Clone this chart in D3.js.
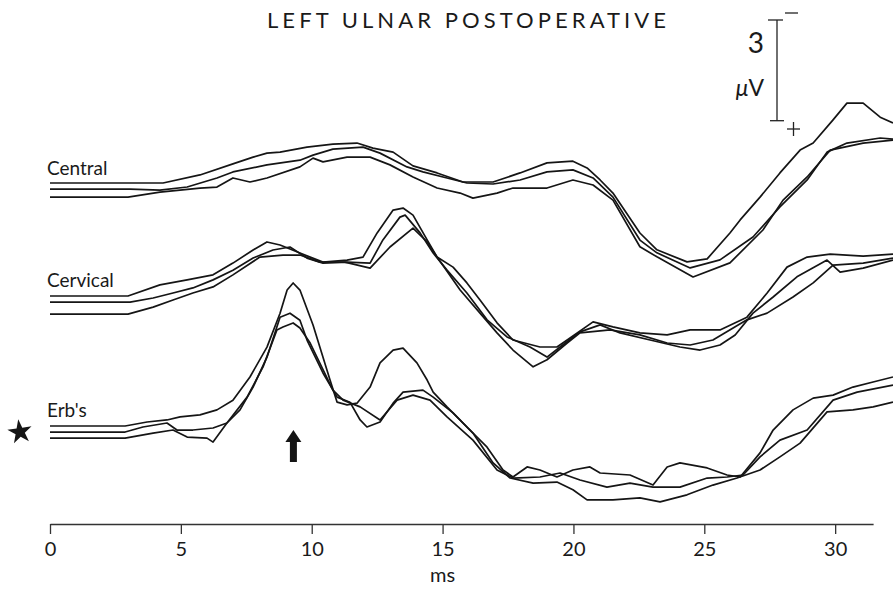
<!DOCTYPE html>
<html>
<head>
<meta charset="utf-8">
<script src="https://cdn.jsdelivr.net/npm/d3@7"></script>
<style>
  body { margin: 0; background: #fff; }
  svg text { font-family: Lato, "DejaVu Sans", sans-serif; font-weight: 400; fill: #1a1a1a; }
</style>
</head>
<body>
<svg id="chart" width="893" height="589"></svg>
<script>
// Somatosensory evoked potentials, left ulnar stimulation, three superimposed runs per site.
// Each point is [latency in ms, amplitude in µV]; negative is drawn upward.
const title = "LEFT ULNAR POSTOPERATIVE";
const sites = ["Central", "Cervical", "Erb's"];
const msTicks = [0, 5, 10, 15, 20, 25, 30];
const scaleBarUV = 3;

const central1 = [[0,0],[2.98,0],[4.32,0],[5.73,-0.24],[6.99,-0.57],[7.76,-0.77],[8.29,-0.89],[8.79,-0.92],[9.82,-1.07],[10.81,-1.16],[11.73,-1.19],[12.34,-1.04],[13.11,-0.92],[13.87,-0.51],[14.79,-0.30],[15.78,-0.03],[16.93,-0.03],[17.96,-0.30],[18.99,-0.60],[19.98,-0.65],[20.52,-0.45],[21.02,-0.09],[21.51,0.30],[22.54,1.49],[23.19,1.99],[24.34,2.35],[25.11,2.26],[25.98,1.49],[26.37,1.10],[27.13,0.42],[27.89,-0.30],[28.66,-0.98],[29.16,-1.19],[29.92,-1.88],[30.45,-2.38],[31.07,-2.38],[31.72,-1.96],[32.21,-1.79]];
const central2 = [[0,0.18],[3.06,0.18],[4.20,0.21],[5.24,0.12],[6.38,-0.15],[6.99,-0.33],[8.29,-0.54],[9.55,-0.68],[10.05,-0.83],[10.81,-1.01],[11.96,-1.07],[12.61,-0.89],[13.64,-0.48],[14.25,-0.33],[15.17,-0.15],[15.93,0],[16.93,0.03],[17.96,-0.09],[18.99,-0.33],[19.98,-0.39],[20.75,-0.15],[21.51,0.42],[22.54,1.70],[23.19,2.08],[24.46,2.53],[25.60,2.29],[26.86,1.61],[27.89,0.71],[28.93,-0.09],[29.69,-0.92],[30.45,-1.19],[31.72,-1.34],[32.21,-1.31]];
const central3 = [[0,0.42],[2.98,0.42],[4.20,0.27],[5.73,0.15],[6.38,0.12],[6.99,-0.15],[7.64,-0.03],[8.29,-0.15],[9.55,-0.48],[10.05,-0.74],[10.43,-0.63],[11.35,-0.77],[12.23,-0.77],[12.99,-0.54],[13.87,-0.18],[14.79,0.15],[15.67,0.30],[16.16,0.45],[17.08,0.30],[17.69,0.15],[18.99,0.15],[19.98,-0.09],[20.75,0.06],[21.51,0.51],[22.54,1.90],[23.19,2.20],[24.57,2.80],[25.98,2.38],[27.24,1.40],[28.01,0.51],[28.93,-0.18],[29.81,-0.98],[31.07,-1.19],[32.21,-1.28]];

const cervical1 = [[0,0],[2.98,0],[4.20,-0.33],[5.24,-0.48],[6.23,-0.63],[6.99,-0.98],[7.76,-1.37],[8.29,-1.61],[8.79,-1.52],[9.55,-1.28],[10.43,-1.01],[11.35,-1.07],[11.96,-1.16],[12.50,-1.88],[13.11,-2.56],[13.49,-2.62],[13.87,-2.41],[14.41,-1.67],[14.79,-1.16],[15.40,-0.86],[15.93,-0.39],[16.43,0.12],[17.08,0.80],[17.69,1.31],[18.72,1.52],[19.37,1.52],[19.76,1.31],[20.75,0.77],[21.51,0.92],[22.54,1.10],[23.58,1.16],[24.46,1.01],[25.60,1.01],[26.63,0.63],[27.40,-0.09],[28.16,-0.86],[28.93,-1.16],[29.81,-1.25],[31.07,-1.19],[32.21,-1.25]];
const cervical2 = [[0,0.18],[3.06,0.18],[3.94,0.06],[4.70,-0.09],[5.46,-0.24],[6.23,-0.48],[6.99,-0.77],[7.76,-1.13],[8.52,-1.37],[9.17,-1.46],[9.82,-1.13],[10.43,-0.98],[11.35,-1.01],[12.23,-0.98],[12.72,-1.67],[13.37,-2.35],[13.57,-2.41],[14.14,-1.88],[14.64,-1.28],[15.17,-0.77],[15.93,-0.09],[16.70,0.71],[17.46,1.22],[18.34,1.52],[18.99,1.82],[19.49,1.52],[20.25,1.07],[21.02,0.86],[21.78,1.10],[22.93,1.31],[24.07,1.52],[24.84,1.61],[25.60,1.46],[26.18,1.16],[26.86,0.51],[27.63,0.03],[28.54,-0.57],[29.69,-1.07],[30.19,-0.71],[31.07,-0.83],[32.21,-1.07]];
const cervical3 = [[0,0.54],[2.98,0.54],[3.94,0.33],[4.70,0.12],[5.46,-0.09],[6.23,-0.27],[6.99,-0.63],[8.02,-1.16],[8.90,-1.22],[9.55,-1.22],[10.32,-1.01],[11.27,-1.01],[12.23,-0.83],[12.99,-1.46],[13.87,-2.02],[14.41,-1.61],[14.79,-1.16],[15.67,-0.18],[16.43,0.51],[17.08,1.10],[17.69,1.61],[18.46,2.11],[18.99,1.90],[19.76,1.40],[20.25,1.10],[21.40,1.01],[22.54,1.16],[23.58,1.40],[24.46,1.46],[25.33,1.31],[26.63,0.71],[27.40,0.51],[28.39,0.03],[29.16,-0.39],[29.92,-0.92],[31.07,-0.98],[32.21,-1.13]];

const erb1 = [[0,0],[2.87,0],[3.71,-0.12],[4.47,-0.18],[4.97,-0.27],[5.73,-0.33],[6.38,-0.48],[6.99,-0.77],[7.64,-1.46],[8.29,-2.35],[8.79,-3.36],[9.06,-4.05],[9.29,-4.26],[9.55,-4.05],[10.05,-3.01],[10.70,-1.37],[10.97,-0.71],[11.35,-0.63],[11.73,-0.68],[12.23,-1.16],[12.61,-1.88],[13.11,-2.26],[13.49,-2.32],[14.02,-1.88],[14.41,-1.37],[14.64,-1.01],[15.17,-0.57],[15.93,0.03],[16.70,0.63],[17.31,1.31],[17.69,1.52],[18.23,1.22],[18.72,1.31],[19.37,1.52],[19.98,1.31],[20.63,1.22],[21.02,1.40],[22.16,1.46],[23.04,1.76],[23.58,1.22],[24.07,1.10],[25.11,1.25],[25.87,1.46],[26.37,1.52],[27.13,0.80],[27.63,0.12],[28.39,-0.48],[29.16,-0.83],[29.92,-0.92],[30.68,-1.16],[31.45,-1.31],[32.21,-1.46]];
const erb2 = [[0,0.18],[2.87,0.18],[3.55,0.03],[4.47,-0.09],[4.85,0.12],[5.46,0.12],[6.23,0.06],[6.76,-0.09],[7.26,-0.48],[7.76,-1.16],[8.29,-2.05],[8.79,-3.24],[9.17,-3.36],[9.55,-3.15],[9.82,-2.56],[10.43,-1.58],[10.97,-0.86],[11.46,-0.71],[11.85,-0.18],[12.11,0.03],[12.61,-0.12],[13.11,-0.68],[13.49,-1.01],[14.25,-1.07],[14.64,-0.86],[15.40,-0.39],[16.16,0.21],[16.93,1.10],[17.58,1.55],[18.46,1.70],[19.37,1.67],[19.98,1.90],[20.52,2.20],[21.02,2.20],[21.51,2.20],[22.54,2.14],[23.31,2.26],[24.34,2.05],[25.33,1.76],[26.25,1.55],[27.13,1.31],[27.89,0.92],[28.66,0.51],[29.69,-0.42],[30.68,-0.48],[31.45,-0.57],[32.21,-0.71]];
const erb3 = [[0,0.36],[2.87,0.36],[3.94,0.21],[4.70,0.12],[5.24,0.33],[6.00,0.36],[6.23,0.48],[6.76,-0.09],[7.53,-0.86],[8.14,-1.76],[8.67,-2.86],[8.90,-2.95],[9.29,-3.07],[9.55,-2.92],[9.94,-2.47],[10.81,-1.07],[11.20,-0.77],[11.85,-0.57],[12.61,-0.18],[13.26,-0.77],[13.87,-0.92],[14.52,-0.77],[15.17,-0.27],[16.16,0.42],[17.08,1.31],[17.69,1.55],[18.72,1.52],[19.49,1.40],[20.25,1.61],[21.28,1.82],[22.16,1.70],[23.04,1.82],[24.07,1.82],[25.11,1.55],[25.87,1.52],[26.48,1.46],[27.13,0.92],[27.89,0.42],[28.93,0.12],[29.92,-0.77],[30.84,-1.01],[32.21,-1.22]];

const siteTraces = [
  [central1, central2, central3],
  [cervical1, cervical2, cervical3],
  [erb1, erb2, erb3]
];

// ---- layout ----
const svg = d3.select("#chart");
const siteBaseY = [183, 296, 426];   // pixel row of each site's resting level
const axisY = 524;

const x = d3.scaleLinear().domain([0, 32.21]).range([50, 893]);
const uv = d3.scaleLinear().domain([0, scaleBarUV]).range([0, 100.7]);

const line = d3.line()
  .x(d => x(d[0]))
  .y(d => uv(d[1]));

// title
svg.append("text")
  .attr("x", 267).attr("y", 28)
  .attr("textLength", 399).attr("lengthAdjust", "spacing")
  .style("font-size", "22px")
  .text(title);

// traces
sites.forEach((name, i) => {
  const g = svg.append("g").attr("transform", `translate(0,${siteBaseY[i]})`);
  g.append("text")
    .attr("x", 47).attr("y", i === 0 ? -8 : -9)
    .style("font-size", "19px")
    .text(name);
  g.selectAll("path.trace")
    .data(siteTraces[i])
    .join("path")
    .attr("class", "trace")
    .attr("d", line)
    .attr("fill", "none")
    .attr("stroke", "#151515")
    .attr("stroke-width", 1.7)
    .attr("stroke-linejoin", "round");
});

// star marker beside the Erb's point
svg.append("path")
  .attr("d", d3.symbol(d3.symbolStar, 185)())
  .attr("transform", `translate(20,${siteBaseY[2] + 6}) rotate(-8)`)
  .attr("fill", "#151515");

// upward arrow under the Erb's point peak
const ax = x(9.3), aTop = 430, aBot = 462;
svg.append("path")
  .attr("d", `M${ax},${aTop} L${ax + 8},${aTop + 12} L${ax + 3.5},${aTop + 12} L${ax + 3.5},${aBot} L${ax - 3.5},${aBot} L${ax - 3.5},${aTop + 12} L${ax - 8},${aTop + 12} Z`)
  .attr("fill", "#151515");

// calibration bar
const barX = 777, barTop = 20;
const bar = svg.append("g").attr("stroke", "#222").attr("stroke-width", 1.3);
bar.append("line").attr("x1", barX).attr("x2", barX).attr("y1", barTop).attr("y2", barTop + uv(scaleBarUV));
bar.append("line").attr("x1", barX - 9).attr("x2", barX + 6).attr("y1", barTop).attr("y2", barTop);
bar.append("line").attr("x1", barX - 7).attr("x2", barX + 7).attr("y1", barTop + uv(scaleBarUV)).attr("y2", barTop + uv(scaleBarUV));
// polarity marks
bar.append("line").attr("x1", 785).attr("x2", 798).attr("y1", 13).attr("y2", 13);
bar.append("line").attr("x1", 787).attr("x2", 800).attr("y1", 129).attr("y2", 129);
bar.append("line").attr("x1", 793.5).attr("x2", 793.5).attr("y1", 122).attr("y2", 136);

svg.append("text")
  .attr("x", 764).attr("y", 53)
  .attr("text-anchor", "end")
  .style("font-size", "28px")
  .text(scaleBarUV);
const unit = svg.append("text")
  .attr("x", 764).attr("y", 96)
  .attr("text-anchor", "end")
  .style("font-size", "23px");
unit.append("tspan").style("font-style", "italic").text("\u03bc");
unit.append("tspan").text("V");

// time axis
const xAxisScale = x.copy().domain([0, 31.45]).range([x(0), x(31.45)]);
const axis = svg.append("g")
  .attr("transform", `translate(0,${axisY})`)
  .call(d3.axisBottom(xAxisScale).tickValues(msTicks).tickSize(10).tickSizeOuter(0).tickPadding(8));
axis.select(".domain").attr("stroke", "#333").attr("stroke-width", 1.5);
axis.selectAll(".tick line").attr("stroke", "#333").attr("stroke-width", 1.3);
axis.selectAll(".tick text")
  .style("font-family", "Lato, 'DejaVu Sans', sans-serif")
  .style("font-weight", 400)
  .style("font-size", "20px")
  .attr("fill", "#1a1a1a");

svg.append("text")
  .attr("x", x(15)).attr("y", 582)
  .attr("text-anchor", "middle")
  .style("font-size", "20px")
  .text("ms");
</script>
</body>
</html>
